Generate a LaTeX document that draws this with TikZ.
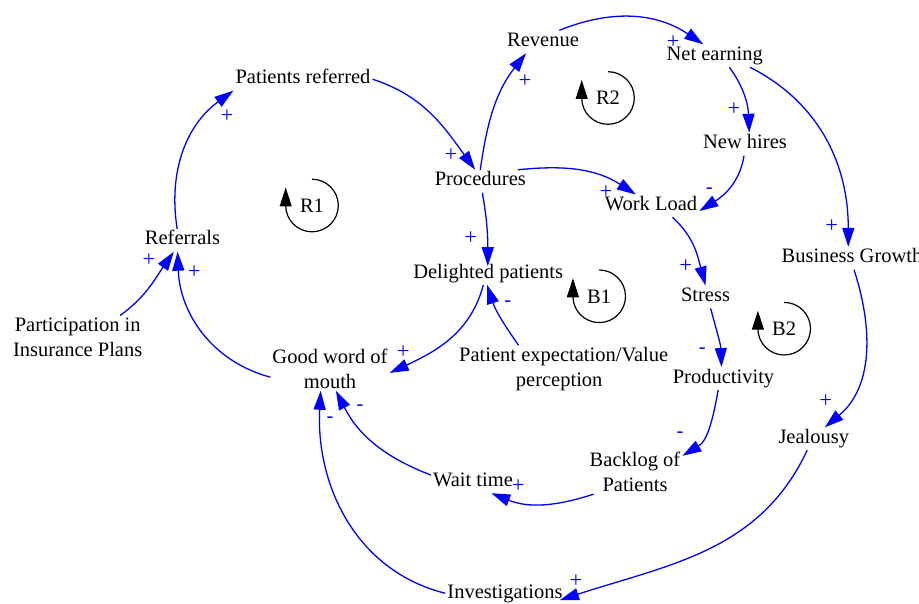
\documentclass[tikz,border=0pt]{standalone}
\usepackage{fontspec}
\setmainfont{Liberation Serif}
\usetikzlibrary{arrows.meta}
\definecolor{linkblue}{RGB}{0,0,255}
\begin{document}
\begin{tikzpicture}[x=1bp,y=1bp,
  every node/.style={font=\fontsize{20.5bp}{25bp}\selectfont},
  var/.style={anchor=base, inner sep=2bp, text height=14bp, text depth=4.5bp},
  varml/.style={align=center, inner sep=2bp},
  link/.style={draw=linkblue, line width=1.3bp, -{Triangle[length=19bp,width=12bp]}},
  pol/.style={anchor=base, text=linkblue, inner sep=0pt},
  plus/.style={pol, font=\fontsize{22.5bp}{25bp}\selectfont},
  loopmark/.style={inner sep=0pt},
  looparc/.style={draw=black, line width=1.2bp, -{Triangle[length=19bp,width=12bp]}},
]
\useasboundingbox (0,0) rectangle (919,-604);

% variables
\node[var] (PR) at (303,-84) {Patients referred};
\node[var] (RV) at (543,-46.5) {Revenue};
\node[var] (NE) at (714.7,-60.5) {Net earning};
\node[var] (NH) at (745,-149) {New hires};
\node[var] (PC) at (480.3,-186) {Procedures};
\node[var] (WL) at (651,-210.7) {Work Load};
\node[var] (BG) at (852,-263) {Business Growth};
\node[var] (RF) at (182.5,-245) {Referrals};
\node[var] (DP) at (488.2,-278.3) {Delighted patients};
\node[var] (ST) at (705.5,-301.7) {Stress};
\node[var] (PD) at (723.5,-383.3) {Productivity};
\node[var] (JE) at (813.8,-443.5) {Jealousy};
\node[var] (WT) at (473,-486.5) {Wait time};
\node[var] (IV) at (505,-598) {Investigations};
\node[varml] (PI) at (77.7,-337.15) {Participation in\\Insurance Plans};
\node[varml] (GW) at (330,-368.75) {Good word of\\mouth};
\node[varml] (PE) at (563.7,-369.3) {Patient expectation/Value\\perception\hspace*{9bp}};
\node[varml] (BL) at (635,-472.15) {Backlog of\\Patients};

% causal links
\draw[link] (RF.115) to[out=99,in=216] (PR.south west);
\draw[link] (PR.east) to[out=-18,in=126] (PC.114);
\draw[link] (PC.north) to[out=82,in=232] (RV.214);
\draw[link] (RV.35) to[out=22,in=146] (NE.135);
\draw[link] (NE.-38) to[out=-54,in=92] (NH.70);
\draw[link] (NE.-18) to[out=-27,in=90] (BG.108);
\draw[link] (NH.-95) to[out=-99,in=32] (WL.-6);
\draw[link] (PC.17) to[out=6,in=147] (WL.143);
\draw[link, shorten >=-4bp] (PC.-80) to[out=-80,in=90] (DP.92);
\draw[link] (WL.-28) to[out=-42,in=105] (ST.north);
\draw[link] (BG.-80) to[out=-72,in=40] (JE.46);
\draw[link] (ST.-66) to[out=-75,in=92] (PD.100);
\draw[link] (PD.-115) to[out=-100,in=31] (BL.19);
\draw[link] (BL.-152) to[out=198,in=-22] (WT.-32);
\draw[link] (WT.171) to[out=159,in=-63] (GW.-75);
\draw[link] (IV.west) to[out=166,in=-93] (GW.-113);
\draw[link, shorten >=-5bp] (JE.-120) to[out=-115,in=18] (IV.-5);
\draw[link] (DP.-113) to[out=-105,in=25] (GW.-4);
\draw[link] (PE.152) to[out=125,in=-72] (DP.-95);
\draw[link] (GW.188) to[out=165,in=-88] (RF.-113);
\draw[link] (PI.27) to[out=36,in=235] (RF.-127);

% link polarities
\node[plus] (p1) at (227,-122.5) {+};
\node[plus] (p2) at (451,-162) {+};
\node[plus] (p3) at (525,-87.2) {+};
\node[plus] (p4) at (673.3,-48.8) {+};
\node[plus] (p5) at (734,-115.5) {+};
\node[plus] (p6) at (831.7,-232.2) {+};
\node[pol] (p7) at (709.3,-194) {-};
\node[plus] (p8) at (606,-198.8) {+};
\node[plus] (p9) at (470.7,-244.8) {+};
\node[plus] (p10) at (685.7,-272.8) {+};
\node[plus] (p11) at (825.7,-407.2) {+};
\node[pol] (p12) at (702.3,-353.3) {-};
\node[pol] (p13) at (680,-437.3) {-};
\node[plus] (p14) at (518.3,-492.2) {+};
\node[pol] (p15) at (360,-410) {-};
\node[pol] (p16) at (330,-422.7) {-};
\node[plus] (p17) at (576,-587.2) {+};
\node[plus] (p18) at (403.3,-358.2) {+};
\node[pol] (p19) at (507.7,-306.7) {-};
\node[plus] (p20) at (194.3,-278.2) {+};
\node[plus] (p21) at (149,-266.5) {+};

% loop identifiers
\node[loopmark] (R1) at (312,-205.5) {R1};
\node[loopmark] (R2) at (608,-98) {R2};
\node[loopmark] (B1) at (599.2,-296.3) {B1};
\node[loopmark] (B2) at (784.2,-328.7) {B2};
\foreach \m in {R1,R2,B1,B2}
  \draw[looparc] (\m.center) ++(0,26.3) arc[start angle=90,end angle=-180,radius=26.3] -- ++(0,18);
\end{tikzpicture}
\end{document}
